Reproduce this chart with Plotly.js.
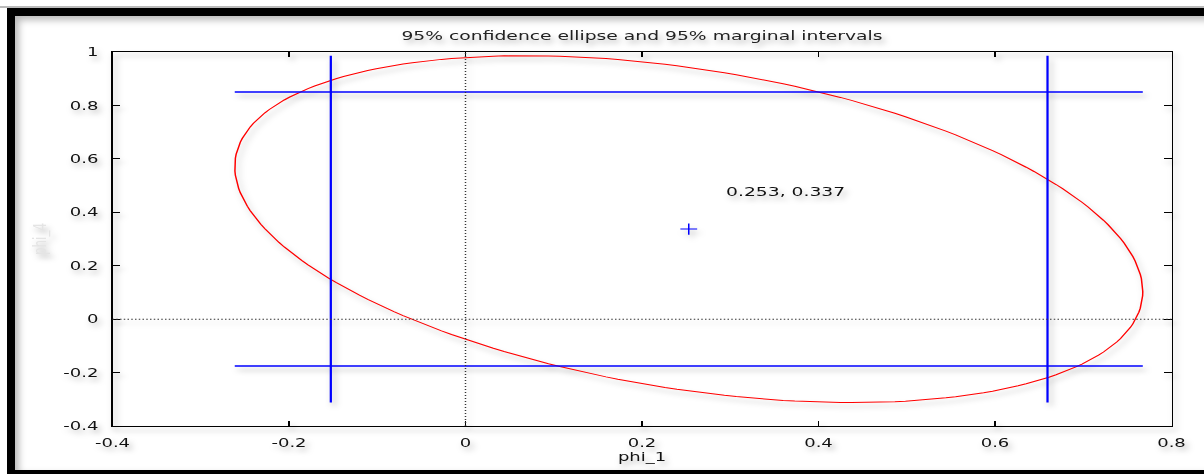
<!DOCTYPE html>
<html>
<head>
<meta charset="utf-8">
<script src="https://cdn.plot.ly/plotly-3.0.1.min.js"></script>
<style>
  html, body { margin: 0; padding: 0; background: #fff; width: 1204px; height: 474px; overflow: hidden; }
  #frame {
    position: absolute; left: 7px; top: 8px; width: 1300px; height: 454px;
    border: 8px solid #000; border-right: none;
    box-shadow: inset 4px 4px 7px rgba(0,0,0,0.28);
    pointer-events: none;
  }
  #topline { position: absolute; left: 0; top: 6px; width: 1204px; height: 2px; background: #bbb; }
  #wrap { position: absolute; left: 0; top: 0; width: 803px; height: 474px; transform: scaleX(1.5); transform-origin: 0 0; }
  #chart { width: 803px; height: 474px; }
  #chart svg.main-svg { filter: drop-shadow(2px 4px 2.5px rgba(0,0,0,0.28)); }
</style>
</head>
<body>
<div id="topline"></div>
<div id="frame"></div>
<div id="wrap"><div id="chart"></div></div>
<script>
// Parameter estimates and their 95% marginal confidence intervals
const paramNames = ['phi_1', 'phi_4'];
const estimate = [0.253, 0.337];
const lower95 = [-0.1526, -0.175];
const upper95 = [0.6595, 0.850];
// Joint-region scaling relative to the marginal half-widths, and correlation of the estimates
const ellipseScale = 1.267;
const correlation = -0.36;

// Axis ticks
const xTickVals = [-0.4, -0.2, 0, 0.2, 0.4, 0.6, 0.8];
const xTickText = ['-0.4', '-0.2', '0', '0.2', '0.4', '0.6', '0.8'];
const yTickVals = [-0.4, -0.2, 0, 0.2, 0.4, 0.6, 0.8, 1];
const yTickText = ['-0.4', '-0.2', '0', '0.2', '0.4', '0.6', '0.8', '1'];

// Semi-extents of the joint 95% region along each parameter
const halfX = (upper95[0] - lower95[0]) / 2 * ellipseScale;
const halfY = (upper95[1] - lower95[1]) / 2 * ellipseScale;

// Confidence ellipse outline
const ex = [], ey = [];
const nPts = 240;
const s = Math.sqrt(1 - correlation * correlation);
for (let i = 0; i <= nPts; i++) {
  const t = 2 * Math.PI * i / nPts;
  ex.push(estimate[0] + halfX * Math.cos(t));
  ey.push(estimate[1] + halfY * (correlation * Math.cos(t) + s * Math.sin(t)));
}

const blue = '#0000ff';
const fontFam = '"DejaVu Sans", Verdana, sans-serif';

const traces = [
  { x: ex, y: ey, mode: 'lines', line: { color: '#ff0000', width: 1 }, hoverinfo: 'skip' },
  // marginal interval for phi_1 (vertical bounds)
  { x: [lower95[0], lower95[0]], y: [estimate[1] - halfY, estimate[1] + halfY], mode: 'lines', line: { color: blue, width: 1.5 } },
  { x: [upper95[0], upper95[0]], y: [estimate[1] - halfY, estimate[1] + halfY], mode: 'lines', line: { color: blue, width: 1.5 } },
  // marginal interval for phi_4 (horizontal bounds)
  { x: [estimate[0] - halfX, estimate[0] + halfX], y: [lower95[1], lower95[1]], mode: 'lines', line: { color: blue, width: 1.5 } },
  { x: [estimate[0] - halfX, estimate[0] + halfX], y: [upper95[1], upper95[1]], mode: 'lines', line: { color: blue, width: 1.5 } },
  // point estimate
  { x: [estimate[0]], y: [estimate[1]], mode: 'markers',
    marker: { symbol: 'cross-thin-open', size: 8, color: blue, line: { color: blue, width: 1 } } }
];

const axisCommon = {
  showgrid: false, zeroline: false, showline: true, linecolor: '#000', linewidth: 1,
  mirror: 'ticks', ticks: 'inside', ticklen: 5, tickcolor: '#000', tickwidth: 1,
  tickmode: 'array', tickfont: { family: fontFam, size: 12, color: '#111' }
};

const layout = {
  width: 803, height: 474,
  margin: { l: 75, r: 22, t: 52, b: 48 },
  paper_bgcolor: 'rgba(0,0,0,0)', plot_bgcolor: 'rgba(0,0,0,0)',
  showlegend: false,
  title: { text: '95% confidence ellipse and 95% marginal intervals',
           font: { family: fontFam, size: 12.5, color: '#222' },
           x: 0.5, xref: 'paper', xanchor: 'center', y: 1, yref: 'paper', yanchor: 'bottom', pad: { b: 12 } },
  xaxis: Object.assign({}, axisCommon, {
    range: [-0.4, 0.8], tickvals: xTickVals, ticktext: xTickText, ticklabelstandoff: 6,
    title: { text: paramNames[0], font: { family: fontFam, size: 12, color: '#111' }, standoff: 0 }
  }),
  yaxis: Object.assign({}, axisCommon, {
    range: [-0.4, 1], tickvals: yTickVals, ticktext: yTickText, ticklabelstandoff: 6,
    title: { text: paramNames[1], font: { family: fontFam, size: 12, color: '#e4e4e4' }, standoff: 8 }
  }),
  shapes: [
    { type: 'line', xref: 'x', yref: 'paper', x0: 0, x1: 0, y0: 0, y1: 1, line: { color: '#333', width: 1, dash: '1px,2px' } },
    { type: 'line', xref: 'paper', yref: 'y', x0: 0, x1: 1, y0: 0, y1: 0, line: { color: '#333', width: 1, dash: '1px,1.5px' } }
  ],
  annotations: [
    { x: 0.292, y: 0.478, xref: 'x', yref: 'y', xanchor: 'left', yanchor: 'middle', showarrow: false,
      text: estimate[0].toFixed(3) + ', ' + estimate[1].toFixed(3),
      font: { family: fontFam, size: 12.5, color: '#111' } }
  ]
};

Plotly.newPlot('chart', traces, layout, { displayModeBar: false, staticPlot: true });
</script>
</body>
</html>
